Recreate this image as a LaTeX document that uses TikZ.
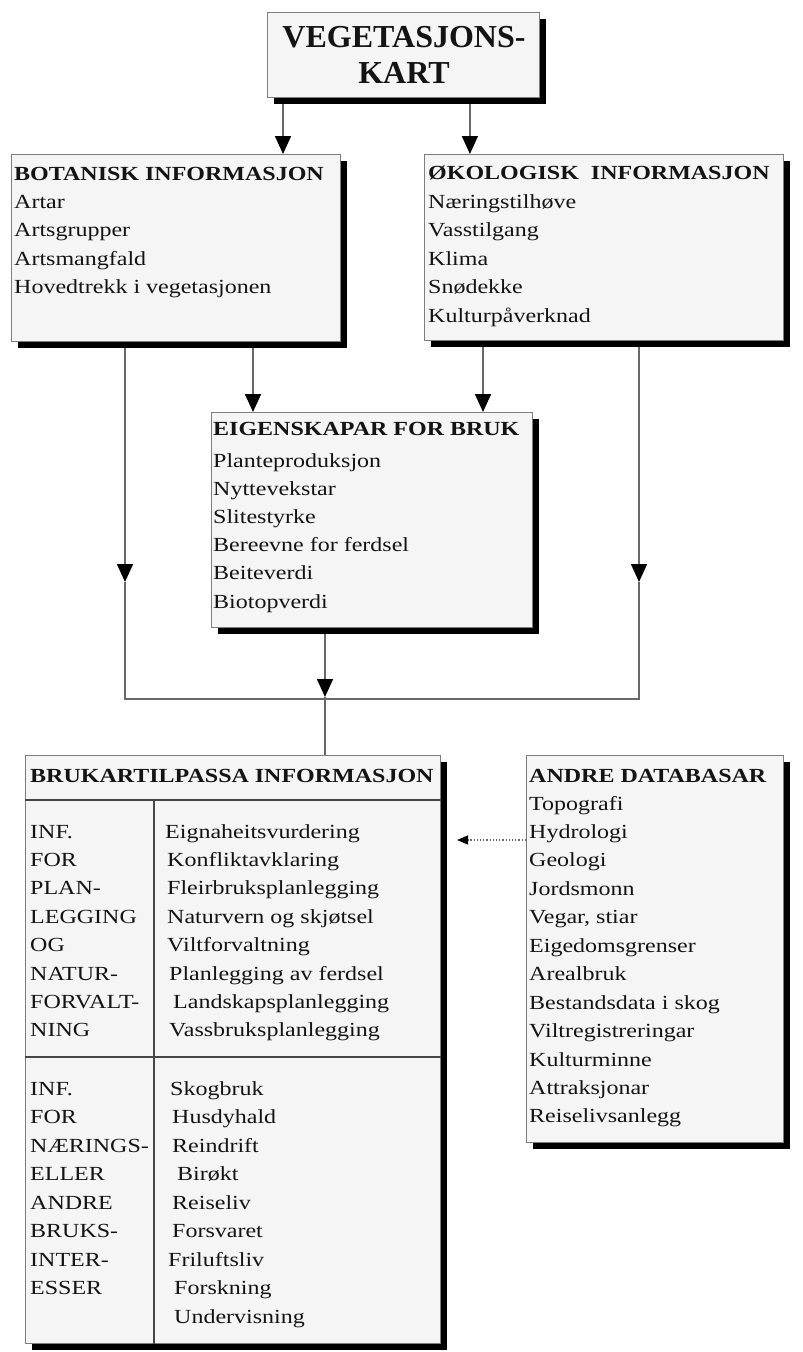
\documentclass[tikz,border=0pt]{standalone}
\usepackage{fontspec}
\setmainfont[FakeStretch=1.2]{Liberation Serif}
\newfontfamily\titlefont{Liberation Serif}
\usetikzlibrary{arrows.meta,shadows,backgrounds}
\definecolor{boxfill}{RGB}{245,245,245}
\definecolor{edge}{RGB}{125,125,125}
\definecolor{wire}{RGB}{105,105,105}
\definecolor{inner}{RGB}{70,70,70}
\definecolor{ink}{RGB}{20,20,20}
\begin{document}
\begin{tikzpicture}[x=1pt,y=-1pt,
  panel/.style={draw=edge, line width=0.9pt, fill=boxfill, anchor=north west, inner sep=0pt,
    general shadow={fill=black, shadow xshift=7pt, shadow yshift=-7pt}},
  txt/.style={anchor=base west, inner sep=0pt, text=ink, font=\fontsize{20}{24}\selectfont},
  head/.style={anchor=base west, inner sep=0pt, text=ink, font=\fontsize{20}{24}\selectfont\bfseries},
  bigtitle/.style={anchor=base, inner sep=0pt, text=ink, font=\fontsize{32}{36}\titlefont\bfseries},
  wireline/.style={draw=wire, line width=1.6pt},
  arr/.style={wireline, -{Triangle[width=16pt,length=18pt,color=black,fill=black]}},
  innerline/.style={draw=inner, line width=1.4pt}
]
\path[use as bounding box] (0,0) rectangle (803,1352);

% ---- boxes ----
\node[panel, minimum width=272pt, minimum height=85pt] (vk) at (267,12) {};
\node[panel, minimum width=329pt, minimum height=187pt] (bot) at (11,154) {};
\node[panel, minimum width=359pt, minimum height=186pt] (oko) at (424,154) {};
\node[panel, minimum width=321pt, minimum height=215pt] (eig) at (211,412) {};
\node[panel, minimum width=415pt, minimum height=588pt] (bru) at (25,755) {};
\node[panel, minimum width=257pt, minimum height=387pt] (and) at (526,755) {};

% ---- top title ----
\node[bigtitle] (vt1) at (404,47) {VEGETASJONS-};
\node[bigtitle] (vt2) at (404,83) {KART};

% ---- botanisk ----
\node[head] (botT) at (14,180) {BOTANISK INFORMASJON};
\foreach \t [count=\i] in {Artar,Artsgrupper,Artsmangfald,Hovedtrekk i vegetasjonen}
  \node[txt] (bot-\i) at (14,{179.5+28.6*\i}) {\t};

% ---- okologisk ----
\node[head] (okoT) at (428,179) {ØKOLOGISK\ \ INFORMASJON};
\foreach \t [count=\i] in {Næringstilhøve,Vasstilgang,Klima,Snødekke,Kulturpåverknad}
  \node[txt] (oko-\i) at (428,{179.5+28.5*\i}) {\t};

% ---- eigenskapar ----
\node[head] (eigT) at (213,435) {EIGENSKAPAR FOR BRUK};
\foreach \t [count=\i] in {Planteproduksjon,Nyttevekstar,Slitestyrke,Bereevne for ferdsel,Beiteverdi,Biotopverdi}
  \node[txt] (eig-\i) at (213,{438.8+28.2*\i}) {\t};

% ---- brukartilpassa ----
\node[head] (bruT) at (30,782) {BRUKARTILPASSA INFORMASJON};
\foreach \t [count=\i] in {INF.,FOR,PLAN-,LEGGING,OG,NATUR-,FORVALT-,NING}
  \node[txt] (bla-\i) at (30,{809.6+28.4*\i}) {\t};
\foreach \xx/\t [count=\i] in {165/Eignaheitsvurdering,167/Konfliktavklaring,167/Fleirbruksplanlegging,167/Naturvern og skjøtsel,167/Viltforvaltning,169/Planlegging av ferdsel,173/Landskapsplanlegging,169/Vassbruksplanlegging}
  \node[txt] (bra-\i) at (\xx,{809.6+28.4*\i}) {\t};
\foreach \t [count=\i] in {INF.,FOR,NÆRINGS-,ELLER,ANDRE,BRUKS-,INTER-,ESSER}
  \node[txt] (blb-\i) at (30,{1066.5+28.5*\i}) {\t};
\foreach \xx/\t [count=\i] in {170/Skogbruk,172/Husdyhald,172/Reindrift,177/Birøkt,172/Reiseliv,172/Forsvaret,168/Friluftsliv,174/Forskning,174/Undervisning}
  \node[txt] (brb-\i) at (\xx,{1066.5+28.5*\i}) {\t};

\draw[innerline] ([yshift=-45pt]bru.north west) -- ([yshift=-45pt]bru.north east);
\draw[innerline] ([yshift=-302pt]bru.north west) -- ([yshift=-302pt]bru.north east);
\draw[innerline] ([xshift=129pt,yshift=-45pt]bru.north west) -- ([xshift=129pt]bru.south west);

% ---- andre databasar ----
\node[head] (andT) at (529,782) {ANDRE DATABASAR};
\foreach \t [count=\i] in {Topografi,Hydrologi,Geologi,Jordsmonn,{Vegar, stiar},Eigedomsgrenser,Arealbruk,Bestandsdata i skog,Viltregistreringar,Kulturminne,Attraksjonar,Reiselivsanlegg}
  \node[txt] (and-\i) at (529,{781.55+28.45*\i}) {\t};

% ---- connectors ----
\coordinate (al) at (125,582);
\coordinate (ar) at (639,582);
\coordinate (jl) at (125,699);
\coordinate (jr) at (639,699);
\coordinate (jm) at (325,697);
\coordinate (dt) at (457,840);
\begin{scope}[on background layer]
\fill[white] (0,0) rectangle (803,1352);
\draw[arr] ([xshift=16pt]vk.south west) -- ([xshift=16pt]vk.south west |- bot.north);
\draw[arr] ([xshift=-70pt]vk.south east) -- ([xshift=-70pt]vk.south east |- oko.north);
\draw[arr] ([xshift=242pt]bot.south west) -- ([xshift=242pt]bot.south west |- eig.north);
\draw[arr] ([xshift=59pt]oko.south west) -- ([xshift=59pt]oko.south west |- eig.north);
\draw[arr] ([xshift=114pt]bot.south west) -- (al);
\draw[arr] ([xshift=215pt]oko.south west) -- (ar);
\draw[wireline] (al) -- (jl) -- (jr) -- (ar);
\draw[arr] ([xshift=114pt]eig.south west) -- (jm);
\draw[wireline] (jm) -- (jm |- bru.north);
\draw[draw=wire, line width=1.2pt, dotted, -{Triangle[width=9pt,length=11pt,color=black,fill=black,sep=0pt]}] (and.west |- dt) -- (dt);
\end{scope}
\end{tikzpicture}
\end{document}
